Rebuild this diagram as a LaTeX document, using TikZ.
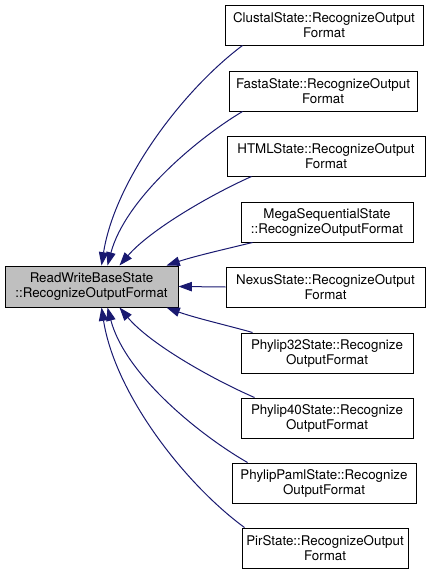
\documentclass[tikz,border=0pt]{standalone}
\usepackage{fontspec}
\setmainfont{TeX Gyre Heros}
\usetikzlibrary{arrows.meta,calc}
\definecolor{edgecol}{HTML}{191970}
\definecolor{basefill}{HTML}{BFBFBF}
\begin{document}
\begin{tikzpicture}[x=0.75pt,y=-0.75pt,
  box/.style={draw=black,line width=0.75pt,fill=white,minimum height=30pt,inner sep=0pt,align=center,font=\fontsize{10}{11.25}\selectfont},
  edgeline/.style={draw=edgecol,line width=0.75pt,-{Triangle[length=10pt,width=7pt]}}]
\useasboundingbox (0,0) rectangle (433,575);
\node[box,fill=basefill,minimum width=129.75pt,minimum height=30.75pt] (base) at (91.5,286.5) {ReadWriteBaseState\\::RecognizeOutputFormat};
\node[box,minimum width=148.5pt] (c1) at (324,25) {ClustalState::RecognizeOutput\\Format};
\node[box,minimum width=141pt] (c2) at (323,91) {FastaState::RecognizeOutput\\Format};
\node[box,minimum width=148.5pt] (c3) at (326,156) {HTMLState::RecognizeOutput\\Format};
\node[box,minimum width=129pt] (c4) at (327,222) {MegaSequentialState\\::RecognizeOutputFormat};
\node[box,minimum width=149.25pt] (c5) at (325.5,287) {NexusState::RecognizeOutput\\Format};
\node[box,minimum width=129pt] (c6) at (327,353) {Phylip32State::Recognize\\OutputFormat};
\node[box,minimum width=129pt] (c7) at (327,418) {Phylip40State::Recognize\\OutputFormat};
\node[box,minimum width=138pt] (c8) at (324,483) {PhylipPamlState::Recognize\\OutputFormat};
\node[box,minimum width=124.5pt] (c9) at (325,548) {PirState::RecognizeOutput\\Format};
\draw[edgeline] ($(c1.south west)+(18,0)$) .. controls (183,90) and (115,180) .. ($(base.north west)+(97,0)$);
\draw[edgeline] ($(c2.south west)+(14,0)$) .. controls (195,140) and (125,200) .. ($(base.north west)+(103,0)$);
\draw[edgeline] ($(c3.south west)+(25,0)$) .. controls (210,195) and (150,230) .. ($(base.north west)+(115,0)$);
\draw[edgeline] ($(c4.south west)+(12,0)$) .. controls (230,248) and (195,256) .. ($(base.north west)+(162,0)$);
\draw[edgeline] (c5.west) -- (base.east);
\draw[edgeline] ($(c6.north west)+(12,0)$) .. controls (230,326) and (195,318) .. ($(base.south west)+(162,0)$);
\draw[edgeline] ($(c7.north west)+(14,0)$) .. controls (212,379) and (150,344) .. ($(base.south west)+(115,0)$);
\draw[edgeline] ($(c8.north west)+(16,0)$) .. controls (198,434) and (125,374) .. ($(base.south west)+(103,0)$);
\draw[edgeline] ($(c9.north west)+(3,0)$) .. controls (185,484) and (115,394) .. ($(base.south west)+(97,0)$);
\end{tikzpicture}
\end{document}
